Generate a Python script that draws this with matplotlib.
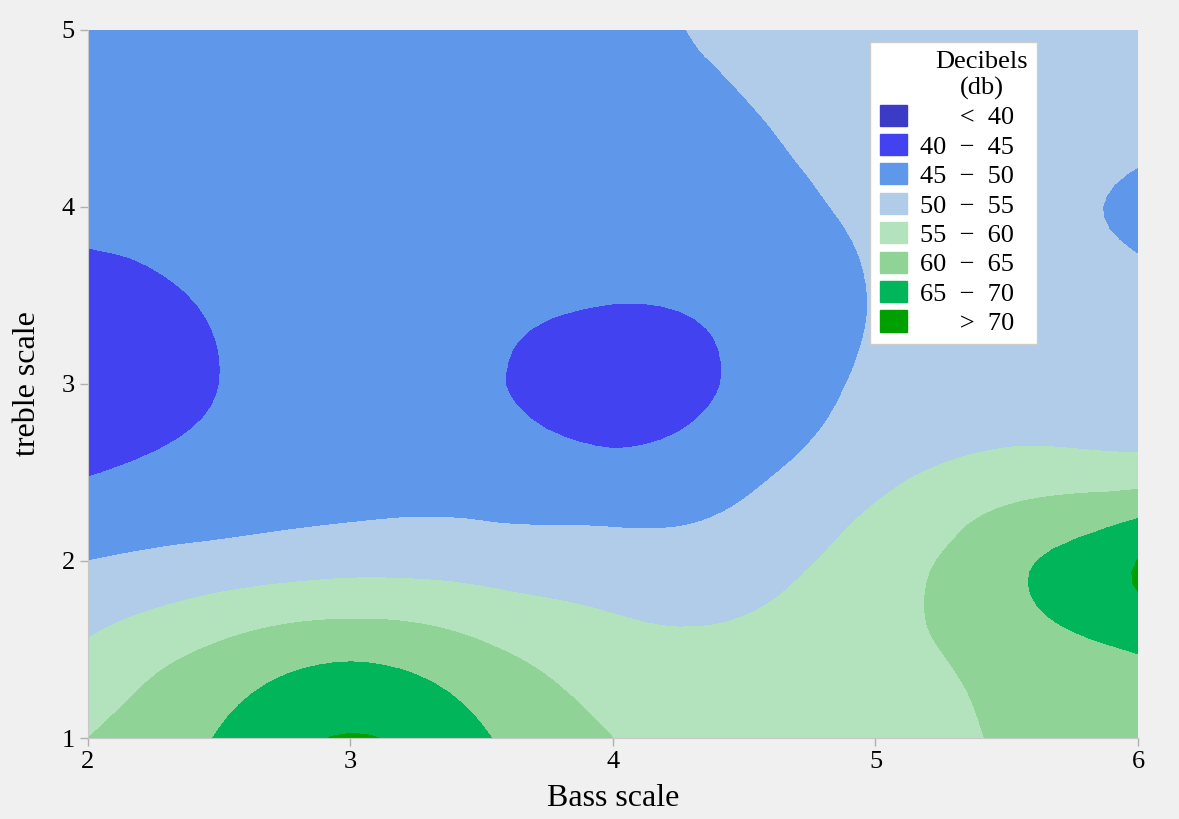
import numpy as np
import matplotlib
matplotlib.use("Agg")
import matplotlib.pyplot as plt
import matplotlib.tri as mtri
from matplotlib.patches import Patch

# readings on a half-step grid: rows = treble 1.0 .. 5.0, cols = bass 2.0 .. 6.0
bass = [2.0, 2.5, 3.0, 3.5, 4.0, 4.5, 5.0, 5.5, 6.0]
treble = [1.0, 1.5, 2.0, 2.5, 3.0, 3.5, 4.0, 4.5, 5.0]
db_t10 = [60.0, 65.3, 70.3, 65.5, 60.0, 57.5, 58.0, 60.5, 63.0]
db_t15 = [55.7, 60.7, 63.7, 60.7, 56.8, 56.0, 58.0, 62.3, 65.3]
db_t20 = [50.0, 51.8, 53.1, 52.8, 52.0, 52.8, 57.3, 63.6, 70.1]
db_t25 = [44.8, 46.5, 48.0, 47.7, 46.5, 48.8, 53.5, 57.0, 57.4]
db_t30 = [42.5, 45.0, 47.0, 45.7, 43.0, 46.0, 50.8, 52.3, 52.0]
db_t35 = [43.5, 45.4, 46.5, 46.0, 45.3, 46.5, 50.2, 51.5, 51.0]
db_t40 = [46.2, 46.3, 46.5, 46.5, 46.7, 48.3, 50.7, 51.0, 49.3]
db_t45 = [47.0, 47.0, 47.0, 47.2, 48.0, 49.7, 51.5, 52.0, 51.5]
db_t50 = [47.5, 47.3, 47.2, 47.7, 48.8, 51.0, 52.5, 53.3, 52.5]

levels = [0, 40, 45, 50, 55, 60, 65, 70, 200]
level_labels = ["\u2007\u2007  <  40\u2007", "40  \u2212  45\u2007", "45  \u2212  50\u2007",
                "50  \u2212  55\u2007", "55  \u2212  60\u2007", "60  \u2212  65\u2007",
                "65  \u2212  70\u2007", "\u2007\u2007  >  70\u2007"]
colors = ["#3b3bc8", "#4242f0", "#5f97eb", "#b1cce9",
          "#b3e3bd", "#8fd397", "#00b55a", "#00a000"]

Z = np.array([db_t10, db_t15, db_t20, db_t25, db_t30, db_t35, db_t40, db_t45, db_t50])
X, Y = np.meshgrid(bass, treble)

plt.rcParams['font.family'] = ['Liberation Serif', 'DejaVu Serif']

fig = plt.figure(figsize=(11.79, 8.19), dpi=100, facecolor="#f0f0f0")
ax = fig.add_axes([0.0746, 0.0989, 0.8906, 0.8645])

tri = mtri.Triangulation(X.ravel(), Y.ravel())
refiner = mtri.UniformTriRefiner(tri)
tri_r, z_r = refiner.refine_field(Z.ravel(), subdiv=3)
ax.tricontourf(tri_r, z_r, levels=levels, colors=colors)

ax.set_xlim(2, 6)
ax.set_ylim(1, 5)
ax.set_xticks([2, 3, 4, 5, 6])
ax.set_yticks([1, 2, 3, 4, 5])
ax.tick_params(labelsize=19, color="#b0b0b0", length=6, width=1)
for s in ["top", "right"]:
    ax.spines[s].set_visible(False)
for s in ["left", "bottom"]:
    ax.spines[s].set_color("#c8c8c8")

ax.set_xlabel("Bass scale", fontsize=23, labelpad=8)
ax.set_ylabel("treble scale", fontsize=23, labelpad=14)

handles = [Patch(facecolor=c, edgecolor=c) for c in colors]
leg = ax.legend(handles, level_labels, title="Decibels\n(db)", loc="upper right",
                bbox_to_anchor=(0.904, 0.983), borderaxespad=0, fontsize=19,
                title_fontsize=19, frameon=True, fancybox=False,
                handlelength=1.05, handleheight=0.85, labelspacing=0.18,
                handletextpad=0.5, borderpad=0.35, alignment="right")
leg.get_title().set_multialignment("center")
leg.get_frame().set_edgecolor("#cccccc")
leg.get_frame().set_facecolor("white")
leg.get_frame().set_alpha(1)

fig.savefig("out.png", dpi=100, facecolor=fig.get_facecolor())
